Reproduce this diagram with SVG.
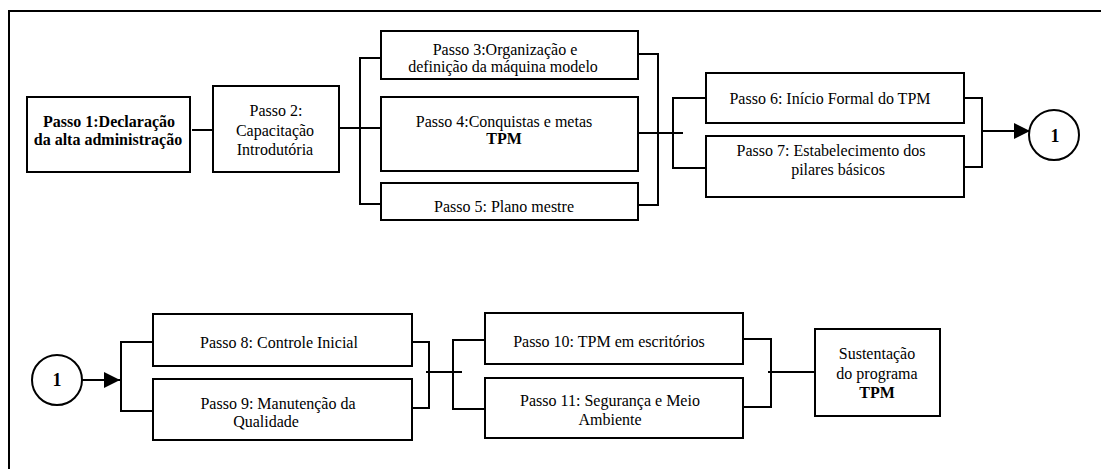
<svg xmlns="http://www.w3.org/2000/svg" width="1101" height="469" viewBox="0 0 1101 469">
  <style>
    .box { fill: #ffffff; stroke: #000000; stroke-width: 2; }
    .wire { fill: none; stroke: #000000; stroke-width: 2; }
    .frame { fill: none; stroke: #000000; stroke-width: 2; }
    .ring { fill: #ffffff; stroke: #000000; stroke-width: 2; }
    text { font-family: "Liberation Serif", "Times New Roman", serif; font-size: 16px; fill: #000000; text-anchor: middle; }
    .b { font-weight: bold; }
    .num { font-size: 18px; font-weight: bold; }
  </style>
  <defs>
    <marker id="tri" markerUnits="userSpaceOnUse" markerWidth="16" markerHeight="16" refX="16" refY="8" orient="auto">
      <path d="M0,0 L16,8 L0,16 z" fill="#000000"/>
    </marker>
  </defs>

  <rect width="1101" height="469" fill="#ffffff"/>

  <!-- page frame: top and left rules -->
  <path class="frame" d="M9,469 V11 H1101"/>

  <!-- connectors -->
  <g id="connectors">
    <!-- step 1 to step 2 -->
    <path class="wire" d="M192,130 H218"/>
    <!-- step 2 into the 3/4/5 fork -->
    <path class="wire" d="M334,128 H385"/>
    <path class="wire" d="M385,58 H360 V204 H385"/>
    <!-- 3/4/5 join -->
    <path class="wire" d="M638,54 H658 V205 H638"/>
    <path class="wire" d="M638,133 H683"/>
    <!-- 6/7 fork -->
    <path class="wire" d="M711,98 H673 V168 H711"/>
    <!-- 6/7 join and arrow to connector 1 -->
    <path class="wire" d="M964,98 H982 V167 H964"/>
    <line class="wire" x1="982" y1="131" x2="1030" y2="131" marker-end="url(#tri)"/>
    <!-- connector 1 into the 8/9 fork -->
    <line class="wire" x1="82" y1="380" x2="120" y2="380" marker-end="url(#tri)"/>
    <path class="wire" d="M157,342 H121 V411 H157"/>
    <!-- 8/9 join -->
    <path class="wire" d="M412,342 H429 V408 H412"/>
    <path class="wire" d="M426,372 H462"/>
    <!-- 10/11 fork -->
    <path class="wire" d="M490,340 H453 V409 H490"/>
    <!-- 10/11 join to final step -->
    <path class="wire" d="M743,339 H771 V407 H743"/>
    <path class="wire" d="M768,372 H818"/>
  </g>

  <g id="passo1">
    <rect class="box" x="27" y="97" width="163" height="75"/>
    <text class="b" x="109" y="127">Passo 1:Declaração</text>
    <text class="b" x="108" y="145">da alta administração</text>
  </g>

  <g id="passo2">
    <rect class="box" x="213" y="86" width="126" height="86"/>
    <text x="276" y="116">Passo 2:</text>
    <text x="275" y="136">Capacitação</text>
    <text x="275" y="155">Introdutória</text>
  </g>

  <g id="passo3">
    <rect class="box" x="381" y="31" width="257" height="48"/>
    <text x="505" y="55">Passo 3:Organização e</text>
    <text x="503" y="72">definição da máquina modelo</text>
  </g>

  <g id="passo4">
    <rect class="box" x="381" y="97" width="257" height="74"/>
    <text x="504" y="127">Passo 4:Conquistas e metas</text>
    <text class="b" x="504" y="144">TPM</text>
  </g>

  <g id="passo5">
    <rect class="box" x="381" y="183" width="257" height="37"/>
    <text x="504" y="212">Passo 5: Plano mestre</text>
  </g>

  <g id="passo6">
    <rect class="box" x="706" y="73" width="258" height="50"/>
    <text x="830" y="104">Passo 6: Início Formal do TPM</text>
  </g>

  <g id="passo7">
    <rect class="box" x="706" y="136" width="258" height="61"/>
    <text x="831" y="156">Passo 7: Estabelecimento dos</text>
    <text x="838" y="175">pilares básicos</text>
  </g>

  <g id="conector1-saida">
    <circle class="ring" cx="1054" cy="135" r="25"/>
    <text class="num" x="1055" y="142">1</text>
  </g>

  <g id="conector1-entrada">
    <circle class="ring" cx="57" cy="380" r="25"/>
    <text class="num" x="57" y="386">1</text>
  </g>

  <g id="passo8">
    <rect class="box" x="153" y="314" width="259" height="52"/>
    <text x="279" y="348">Passo 8: Controle Inicial</text>
  </g>

  <g id="passo9">
    <rect class="box" x="153" y="379" width="259" height="61"/>
    <text x="278" y="409">Passo 9: Manutenção da</text>
    <text x="266" y="427">Qualidade</text>
  </g>

  <g id="passo10">
    <rect class="box" x="485" y="313" width="258" height="51"/>
    <text x="609" y="347">Passo 10: TPM em escritórios</text>
  </g>

  <g id="passo11">
    <rect class="box" x="485" y="378" width="258" height="60"/>
    <text x="610" y="406">Passo 11: Segurança e Meio</text>
    <text x="610" y="425">Ambiente</text>
  </g>

  <g id="sustentacao">
    <rect class="box" x="815" y="329" width="125" height="87"/>
    <text x="877" y="359">Sustentação</text>
    <text x="877" y="379">do programa</text>
    <text class="b" x="877" y="398">TPM</text>
  </g>
</svg>
